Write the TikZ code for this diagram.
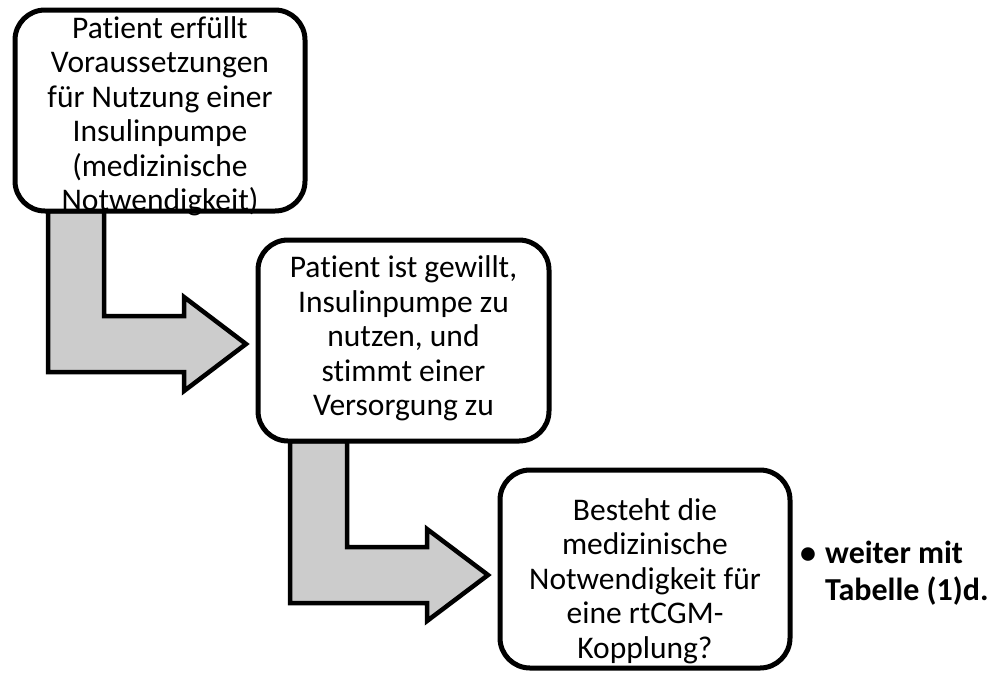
\documentclass[tikz,border=0pt]{standalone}
\usepackage{fontspec}
\setmainfont{Carlito}[Ligatures=NoCommon]
\usetikzlibrary{calc,backgrounds}
\definecolor{arrowgray}{HTML}{CCCCCC}
\begin{document}
\begin{tikzpicture}[x=1pt,y=-1pt,
  roundbox/.style={draw=black, line width=5pt, rounded corners=30pt, fill=white,
    inner sep=0pt, outer sep=0pt},
  boxtext/.style={align=center, inner sep=0pt,
    font=\fontsize{31.5}{34.5}\selectfont},
  bendarrow/.style={draw=black, line width=4.5pt, fill=arrowgray, line join=miter},
  notetext/.style={inner sep=0pt, anchor=base west,
    font=\fontsize{32}{37}\selectfont\bfseries}
]
\useasboundingbox (0,0) rectangle (996,673);

% boxes
\node[roundbox, minimum width=290pt, minimum height=201pt] (box1) at (160,110.5) {};
\node[roundbox, minimum width=291pt, minimum height=201pt] (box2) at (403.5,340.5) {};
\node[roundbox, minimum width=290pt, minimum height=198pt] (box3) at (645,569) {};

% texts
\node[boxtext] (t1) at ($(box1.center)+(0,6)$) {Patient erfüllt\\Voraussetzungen\\für Nutzung einer\\Insulinpumpe\\(medizinische\\Notwendigkeit)};
\node[boxtext] (t2) at ($(box2.center)+(0,-2)$) {Patient ist gewillt,\\Insulinpumpe zu\\nutzen, und\\stimmt einer\\Versorgung zu};
\node[boxtext] (t3) at ($(box3.center)+(0,12)$) {Besteht die\\medizinische\\Notwendigkeit für\\eine rtCGM-\\Kopplung?};

\node[notetext] (note) at (800,563) {\begin{tabular}[t]{@{}l@{\hspace{9pt}}l@{}}\textbullet & weiter mit\\[0pt] & Tabelle (1)d.\end{tabular}};

% anchor points of the bent block arrows
\coordinate (a1s) at ($(box1.south west)+(33,0)$);
\coordinate (a1e) at ($(box1.south west)+(89,0)$);
\coordinate (a1tip) at ($(box2.west)+(-12,3.5)$);
\coordinate (a2s) at ($(box2.south west)+(32,0)$);
\coordinate (a2e) at ($(box2.south west)+(89,0)$);
\coordinate (a2tip) at ($(box3.west)+(-12,6)$);

% bent block arrows
\begin{scope}[on background layer]
\draw[bendarrow] (a1s) -- ++(0,161) -- ++(136,0) -- ++(0,19) -- (a1tip)
  -- ++(-62,-47) -- ++(0,19) -- ++(-80,0) -- (a1e) -- cycle;
\draw[bendarrow] (a2s) -- ++(0,162) -- ++(137,0) -- ++(0,18) -- (a2tip)
  -- ++(-61,-46) -- ++(0,18) -- ++(-80,0) -- (a2e) -- cycle;
\end{scope}
\end{tikzpicture}
\end{document}
